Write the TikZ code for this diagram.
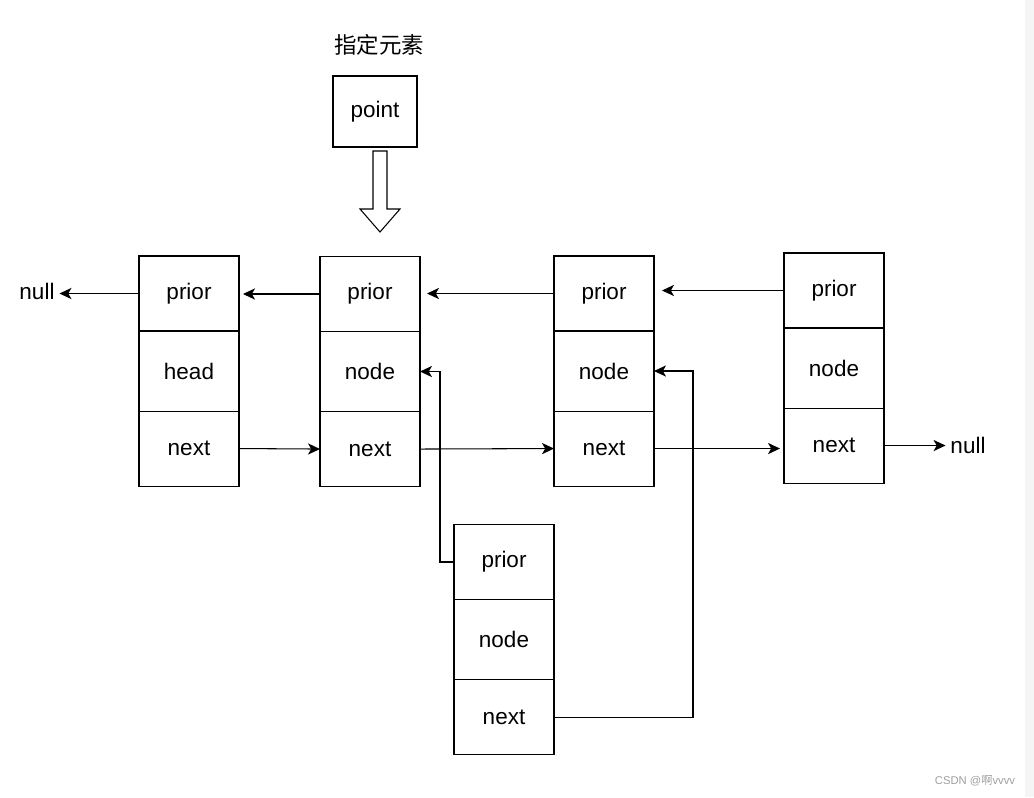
\documentclass[tikz,border=0pt]{standalone}
\usepackage{fontspec}
\setmainfont{Liberation Sans}
\newfontfamily\cjk{Noto Sans CJK SC}
\usetikzlibrary{arrows.meta}

\tikzset{
  cell/.style={draw,line width=0.75pt,minimum width=2.5cm,inner sep=0pt,outer sep=0pt,
    font=\fontsize{16}{19}\selectfont},
  label/.style={font=\fontsize{16}{19}\selectfont},
  link/.style={line width=0.75pt,-{Stealth[length=0.3cm,width=0.28cm,inset=0.08cm]}}
}

\begin{document}
\begin{tikzpicture}[x=0.025cm,y=-0.025cm]
        \useasboundingbox (0,0) rectangle (1034,797);
        \fill[gray!8] (1025,0) rectangle (1034,797);
        %% pointer
        \node[label,font=\cjk\fontsize{16}{19}\selectfont] (title) at (379,45) {指定元素};
        \node[cell,minimum width=2.1cm,minimum height=1.775cm] (point) at (375,111.5) {point};
        \draw[line width=0.75pt] (373,151) -- (387,151) -- (387,209) -- (400,209)
            -- (380,232) -- (360,209) -- (373,209) -- cycle;
        %% list nodes
        \foreach \c/\x/\y/\mid in {1/189/293.5/head, 2/370/294/node, 3/604/293.5/node,
                                   4/834/290.5/node, 5/504/562/node}{
            \node[cell,minimum height=1.875cm] (p\c) at (\x,\y) {prior};
            \node[cell,minimum height=2cm,anchor=north] (m\c) at (p\c.south) {\mid};
            \node[cell,minimum height=1.875cm,anchor=north] (n\c) at (m\c.south) {next};
        }
        %% ends
        \node[label] (nl) at (37,291) {null};
        \node[label] (nr) at (968,445) {null};
        %% prior links
        \draw[link] (p1.west) -- (p1.west -| nl.east);
        \draw[link,shorten >=0.1cm] (p2.west) -- (p2.west -| p1.east);
        \draw[link,shorten >=0.175cm] (p3.west) -- (p3.west -| p2.east);
        \draw[link,shorten >=0.2cm] (p4.west) -- (p4.west -| p3.east);
        %% next links
        \draw[link] (n1.east) -- (n2.west);
        \draw[link] (n2.east) -- (n3.west);
        \draw[link,shorten >=0.1cm] (n3.east) -- (n3.east -| n4.west);
        \draw[link] (n4.east) -- (n4.east -| nr.west);
        %% inserted node
        \draw[link] (p5.west) -- ++(-14,0) |- (m2.east);
        \draw[link] (n5.east) -- ++(139,0) |- (m3.east);
        %% watermark
        \node[text=gray!75,font=\fontsize{8}{9}\selectfont] (mark) at (975,781) {CSDN @{\cjk 啊}vvvv};
\end{tikzpicture}
\end{document}
